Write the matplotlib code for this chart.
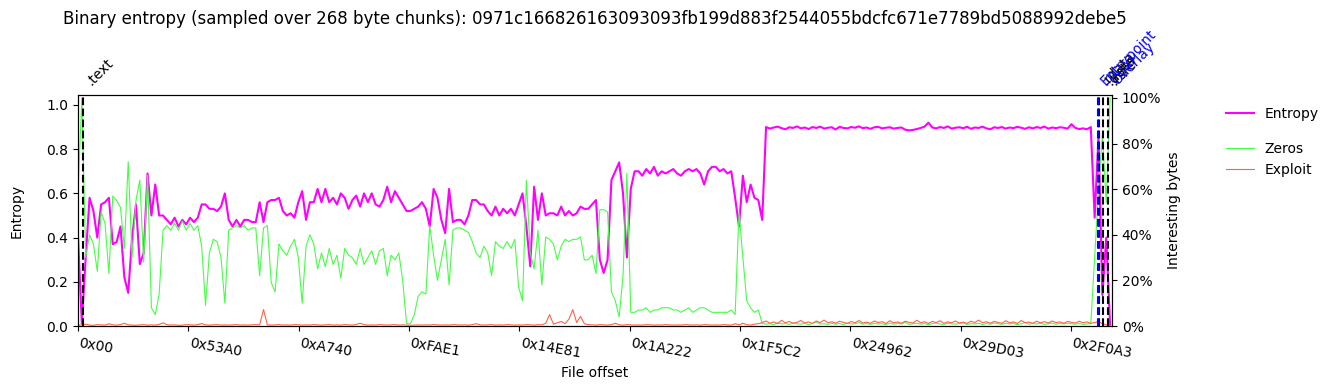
#!/usr/bin/env python3
"""
Binary entropy plot: entropy per chunk plus share of zero / exploit-like bytes.
"""

import numpy as np
import matplotlib
matplotlib.use('Agg')
import matplotlib.pyplot as plt
import matplotlib.transforms as mtransforms
from matplotlib.ticker import PercentFormatter

TITLE = ("Binary entropy (sampled over 268 byte chunks): "
         "0971c166826163093093fb199d883f2544055bdcfc671e7789bd5088992debe5")

CHUNK = 750          # bytes per plotted sample
FILE_END = 200600    # right edge of the offset axis

# entropy per chunk (0..1)
entropy = [
    0.41, 0.01, 0.31, 0.58, 0.52, 0.40, 0.55, 0.56, 0.58, 0.37,
    0.38, 0.45, 0.22, 0.15, 0.40, 0.55, 0.28, 0.33, 0.69, 0.50,
    0.64, 0.50, 0.50, 0.48, 0.46, 0.49, 0.45, 0.48, 0.46, 0.49,
    0.47, 0.49, 0.55, 0.55, 0.53, 0.53, 0.52, 0.54, 0.60, 0.48,
    0.45, 0.48, 0.45, 0.48,
    0.48, 0.47, 0.47, 0.56, 0.47, 0.56, 0.57, 0.57, 0.58, 0.52,
    0.50, 0.51, 0.49, 0.56, 0.61, 0.48, 0.56, 0.56, 0.62, 0.56,
    0.62, 0.56, 0.58, 0.55, 0.60, 0.58, 0.53, 0.57, 0.59, 0.54,
    0.60, 0.56, 0.60, 0.55, 0.54, 0.57, 0.63, 0.56, 0.61, 0.58,
    0.55, 0.52, 0.52, 0.53,
    0.54, 0.56, 0.53, 0.45, 0.62, 0.58, 0.48, 0.42, 0.62, 0.47,
    0.48, 0.48, 0.46, 0.50, 0.57, 0.57, 0.55, 0.55, 0.52, 0.50,
    0.54, 0.50, 0.53, 0.51, 0.53, 0.50, 0.55, 0.60, 0.45, 0.27,
    0.63, 0.48, 0.60, 0.50, 0.51, 0.51, 0.50, 0.54, 0.50, 0.52,
    0.50, 0.51, 0.54, 0.53,
    0.53, 0.55, 0.57, 0.30, 0.24, 0.30, 0.66, 0.70, 0.74, 0.60,
    0.31, 0.62, 0.70, 0.70, 0.68, 0.71, 0.69, 0.72, 0.68, 0.70,
    0.69, 0.70, 0.71, 0.69, 0.68, 0.70, 0.71, 0.70, 0.71, 0.69,
    0.64, 0.70, 0.72, 0.72, 0.70, 0.71, 0.69, 0.70, 0.58, 0.45,
    0.68, 0.56, 0.64, 0.58, 0.57,
    0.48,
    0.900, 0.893, 0.898, 0.902, 0.895, 0.890, 0.899, 0.896, 0.903, 0.894,
    0.898, 0.891, 0.900, 0.896, 0.902, 0.893, 0.897, 0.899, 0.889, 0.901,
    0.896, 0.894, 0.900, 0.897, 0.903, 0.895, 0.898, 0.892, 0.899, 0.901,
    0.894, 0.897, 0.899, 0.893, 0.896, 0.898, 0.888, 0.885, 0.887, 0.891,
    0.896, 0.902, 0.920, 0.898, 0.894, 0.900, 0.896, 0.903, 0.893, 0.897,
    0.899, 0.895, 0.901, 0.892, 0.898, 0.896, 0.902, 0.894, 0.890, 0.899,
    0.896, 0.900, 0.893, 0.898, 0.895, 0.901, 0.897, 0.892, 0.899, 0.894,
    0.900, 0.896, 0.902, 0.893, 0.898, 0.895, 0.899, 0.897, 0.893, 0.913,
    0.896, 0.891, 0.894, 0.890,
    0.90, 0.49, 0.86, 0.14, 0.40, 0.00,
]

# fraction of zero bytes per chunk
zeros = [
    0.58, 1.00, 0.30, 0.40, 0.36, 0.24, 0.50, 0.45, 0.23, 0.57,
    0.55, 0.52, 0.34, 0.72, 0.30, 0.55, 0.64, 0.28, 0.66, 0.08,
    0.05, 0.14, 0.42, 0.44, 0.42, 0.45, 0.42, 0.46, 0.42, 0.45,
    0.42, 0.44, 0.35, 0.09, 0.32, 0.38, 0.37, 0.30, 0.10, 0.42,
    0.43, 0.44, 0.43, 0.44,
    0.42, 0.43, 0.43, 0.22, 0.43, 0.44, 0.19, 0.15, 0.36, 0.33,
    0.31, 0.35, 0.38, 0.30, 0.10, 0.35, 0.40, 0.36, 0.25, 0.32,
    0.26, 0.34, 0.27, 0.31, 0.21, 0.34, 0.31, 0.30, 0.27, 0.34,
    0.27, 0.30, 0.33, 0.27, 0.33, 0.34, 0.22, 0.31, 0.29, 0.32,
    0.20, 0.01, 0.01, 0.05,
    0.13, 0.15, 0.14, 0.44, 0.31, 0.20, 0.29, 0.38, 0.18, 0.42,
    0.43, 0.43, 0.42, 0.41, 0.37, 0.32, 0.30, 0.35, 0.32, 0.22,
    0.37, 0.35, 0.34, 0.37, 0.34, 0.38, 0.17, 0.11, 0.64, 0.32,
    0.25, 0.42, 0.18, 0.39, 0.38, 0.36, 0.29, 0.35, 0.38, 0.37,
    0.38, 0.38, 0.39, 0.29,
    0.29, 0.31, 0.23, 0.51, 0.51, 0.50, 0.15, 0.11, 0.04, 0.22,
    0.67, 0.06, 0.06, 0.07, 0.07, 0.08, 0.06, 0.07, 0.07, 0.08,
    0.08, 0.08, 0.07, 0.07, 0.06, 0.07, 0.08, 0.06, 0.07, 0.08,
    0.08, 0.07, 0.06, 0.06, 0.06, 0.06, 0.06, 0.07, 0.05, 0.50,
    0.30, 0.11, 0.08, 0.06, 0.07,
    0.012, 0.008, 0.010, 0.006, 0.014, 0.009, 0.011, 0.007, 0.013, 0.010,
    0.008, 0.012, 0.006, 0.011, 0.018, 0.009, 0.010, 0.007, 0.012, 0.008,
    0.011, 0.006, 0.013, 0.009, 0.010, 0.015, 0.008, 0.011, 0.007, 0.012,
    0.009, 0.010, 0.006, 0.013, 0.008, 0.011, 0.009, 0.016, 0.007, 0.010,
    0.012, 0.008, 0.011, 0.006, 0.010, 0.013, 0.009, 0.007, 0.012, 0.010,
    0.008, 0.011, 0.014, 0.007, 0.010, 0.009, 0.012, 0.006, 0.011, 0.008,
    0.013, 0.010, 0.007, 0.012, 0.009, 0.011, 0.006, 0.010, 0.015, 0.008,
    0.011, 0.009, 0.012, 0.007, 0.010, 0.013, 0.008, 0.011, 0.009, 0.012,
    0.010, 0.008, 0.011, 0.007, 0.009,
    0.01, 0.30, 0.60, 0.84, 0.54, 1.00,
]

# fraction of "exploit" bytes per chunk
exploit = [
    0.004, 0.005, 0.008, 0.004, 0.003, 0.006, 0.005, 0.004, 0.010, 0.005,
    0.004, 0.006, 0.012, 0.005, 0.004, 0.003, 0.005, 0.006, 0.004, 0.005,
    0.004, 0.007, 0.014, 0.006, 0.004, 0.005, 0.003, 0.004, 0.006, 0.005,
    0.004, 0.006, 0.011, 0.005, 0.004, 0.005, 0.006, 0.004, 0.005, 0.004,
    0.005, 0.006, 0.004, 0.005, 0.004, 0.005, 0.006, 0.005, 0.072, 0.005,
    0.004, 0.005, 0.006, 0.004, 0.005, 0.004, 0.006, 0.005, 0.004, 0.005,
    0.004, 0.006, 0.005, 0.004, 0.005, 0.006, 0.004, 0.005, 0.004, 0.006,
    0.005, 0.004, 0.007, 0.012, 0.006, 0.004, 0.005, 0.004, 0.006, 0.005,
    0.004, 0.005, 0.006, 0.004, 0.005, 0.004, 0.003, 0.004, 0.005, 0.004,
    0.005, 0.004, 0.006, 0.005, 0.004, 0.005, 0.004, 0.006, 0.005, 0.004,
    0.005, 0.004, 0.006, 0.010, 0.005, 0.004, 0.005, 0.006, 0.004, 0.005,
    0.004, 0.006, 0.005, 0.004, 0.005, 0.004, 0.006, 0.005, 0.004, 0.006,
    0.005, 0.012, 0.050, 0.008, 0.014, 0.020, 0.010, 0.030, 0.072, 0.015,
    0.042, 0.010, 0.006, 0.005, 0.004, 0.006, 0.005, 0.004, 0.006, 0.012,
    0.005, 0.004, 0.006, 0.005, 0.004, 0.005, 0.004, 0.006, 0.005, 0.004,
    0.005, 0.004, 0.006, 0.005, 0.004, 0.005, 0.004, 0.006, 0.005, 0.004,
    0.005, 0.004, 0.006, 0.005, 0.004, 0.005, 0.004, 0.006, 0.005, 0.004,
    0.010, 0.005, 0.012, 0.006, 0.004, 0.008, 0.010,
    0.015, 0.022, 0.012, 0.018, 0.010, 0.025, 0.014, 0.020, 0.012, 0.016,
    0.024, 0.013, 0.018, 0.011, 0.022, 0.015, 0.026, 0.014, 0.019, 0.012,
    0.021, 0.016, 0.011, 0.020, 0.014, 0.024, 0.013, 0.017, 0.012, 0.022,
    0.015, 0.019, 0.011, 0.023, 0.014, 0.018, 0.012, 0.021, 0.016, 0.013,
    0.025, 0.014, 0.019, 0.011, 0.020, 0.015, 0.023, 0.012, 0.018, 0.014,
    0.022, 0.013, 0.017, 0.011, 0.021, 0.015, 0.026, 0.014, 0.019, 0.012,
    0.020, 0.016, 0.012, 0.023, 0.014, 0.018, 0.011, 0.024, 0.015, 0.017,
    0.012, 0.021, 0.014, 0.019, 0.013, 0.022, 0.015, 0.018, 0.012, 0.020,
    0.016, 0.013, 0.021, 0.014, 0.018, 0.012, 0.015, 0.020, 0.010, 0.005,
    0.002,
]

tick_labels = ['0x00', '0x53A0', '0xA740', '0xFAE1', '0x14E81',
               '0x1A222', '0x1F5C2', '0x24962', '0x29D03', '0x2F0A3']

# (name, offset) of section starts, entry point and overlay
sections = [('.text', 0x400), ('.rdata', 0x30580), ('.data', 0x30930),
            ('.rsrc', 0x30C80)]
entrypoint = 0x30500
overlay = 0x30E00

offsets = np.arange(len(entropy)) * CHUNK

fig = plt.figure(figsize=(13.35, 3.9), dpi=100)
ax = fig.add_axes([0.0584, 0.1641, 0.7745, 0.5923])
ax2 = ax.twinx()

l_ent, = ax.plot(offsets, entropy, color='magenta', linewidth=1.5, label='Entropy')
ax.set_ylim(0, 1.045)
ax.set_xlim(0, FILE_END)
ax.set_ylabel('Entropy', labelpad=16)
ax.set_xlabel('File offset')
ax.set_title(TITLE, pad=51)

l_zero, = ax2.plot(offsets, zeros, color='#44ff44', linewidth=0.8, label='Zeros')
l_expl, = ax2.plot(offsets, exploit, color='tomato', linewidth=0.8, label='Exploit')
ax2.set_ylim(0, 1.013)
ax2.set_yticks([0, 0.2, 0.4, 0.6, 0.8, 1.0])
ax2.yaxis.set_major_formatter(PercentFormatter(1.0, decimals=0))
ax2.set_ylabel('Interesting bytes')

ax.set_xticks([int(t, 16) for t in tick_labels])
ax.set_xticklabels(tick_labels, rotation=-10, ha='left')

# section markers
trans = mtransforms.blended_transform_factory(ax.transData, ax.transAxes)
for name, off in sections:
    ax2.axvline(off, color='black', linestyle='--', linewidth=1.5)
    ax.text(off, 1.03, name, rotation=45, ha='left', va='bottom',
            transform=trans, fontsize=10)
ax2.axvline(entrypoint, color='blue', linestyle='--', linewidth=1.5)
ax.text(entrypoint, 1.03, 'Entrypoint', rotation=45, ha='left', va='bottom',
        transform=trans, fontsize=10, color='blue')
ax.text(overlay, 1.03, 'Overlay', rotation=45, ha='left', va='bottom',
        transform=trans, fontsize=10, color='blue')

leg1 = ax2.legend(handles=[l_ent], loc='upper left', bbox_to_anchor=(1.098, 1.002),
                  frameon=False)
ax2.add_artist(leg1)
ax2.legend(handles=[l_zero, l_expl], loc='upper left', bbox_to_anchor=(1.098, 0.852),
           frameon=False)

plt.savefig('out.png', dpi=100)
